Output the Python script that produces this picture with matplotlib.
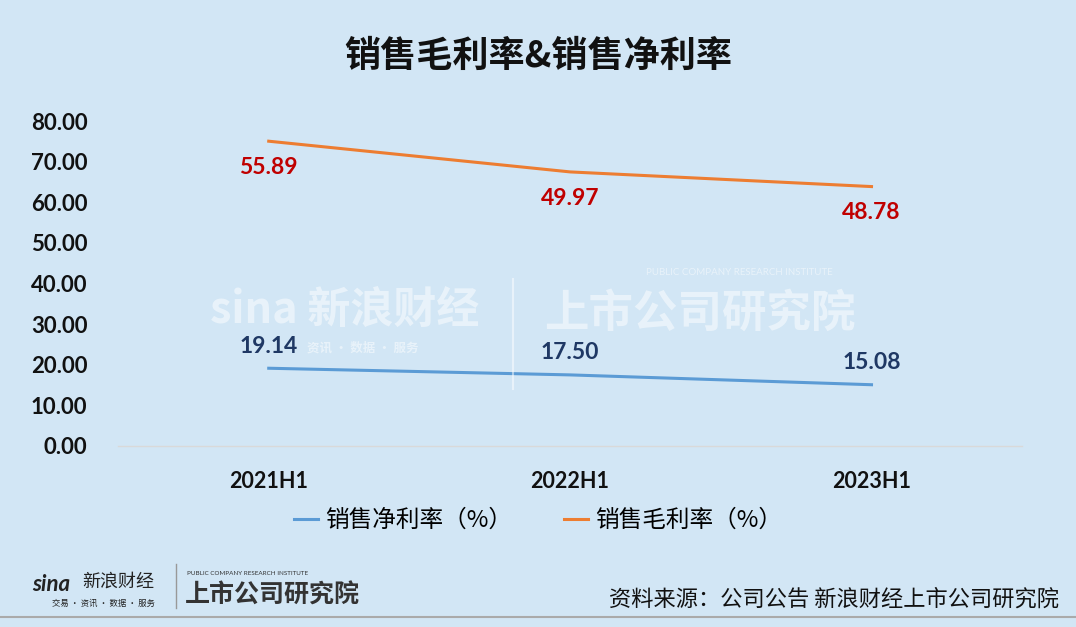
import matplotlib.pyplot as plt
import numpy as np

# Data
categories = ['2021H1', '2022H1', '2023H1']
net_margin = [19.14, 17.50, 15.08]
gross_margin = [55.89, 49.97, 48.78]
y_ticks = [0, 10, 20, 30, 40, 50, 60, 70, 80]

BG = '#D2E6F5'
CJK = ['Noto Sans CJK SC', 'DejaVu Sans']
NUM = ['Lato', 'DejaVu Sans']

plt.rcParams['font.family'] = CJK

fig = plt.figure(figsize=(10.76, 6.27), dpi=100, facecolor=BG)
ax = fig.add_axes([0.1097, 0.2887, 0.8403, 0.5183], facecolor=BG)

x = np.arange(len(categories))
# stacked line chart: gross margin drawn on top of net margin
stacked = np.array(net_margin) + np.array(gross_margin)

ax.plot(x, net_margin, color='#5B9BD5', linewidth=2.2,
        label='销售净利率（%）')
ax.plot(x, stacked, color='#ED7D31', linewidth=2.2,
        label='销售毛利率（%）')

for xi, yv, v in zip(x, stacked, gross_margin):
    ax.annotate(f'{v:.2f}', (xi, yv), xytext=(0, -19),
                textcoords='offset points', ha='center', va='center',
                fontsize=16.5, fontweight='bold', color='#C00000', family=NUM)
for xi, yv in zip(x, net_margin):
    ax.annotate(f'{yv:.2f}', (xi, yv), xytext=(0, 16),
                textcoords='offset points', ha='center', va='center',
                fontsize=16.5, fontweight='bold', color='#1F3864', family=NUM)

ax.set_xlim(-0.5, len(categories) - 0.5)
ax.set_ylim(0, 80)
ax.set_yticks(y_ticks)
ax.set_yticklabels([f'{t:.2f}' for t in y_ticks], family=NUM,
                   fontsize=16, fontweight='bold', color='#111111')
ax.set_xticks(x)
ax.set_xticklabels(categories, family=NUM, fontsize=15.5,
                   fontweight='bold', color='#111111')
ax.tick_params(axis='both', length=0)
ax.tick_params(axis='y', pad=22)
ax.tick_params(axis='x', pad=18)
for side in ['top', 'right', 'left']:
    ax.spines[side].set_visible(False)
ax.spines['bottom'].set_color('#D9D9D9')
ax.spines['bottom'].set_linewidth(1)

fig.text(0.5, 0.91, '销售毛利率&销售净利率', ha='center', va='center',
         fontsize=26, fontweight='bold', color='#111111')

leg = fig.legend(loc='center', bbox_to_anchor=(0.5, 0.17), ncol=2,
                 frameon=False, fontsize=17, handlelength=1.0,
                 handletextpad=0.3, columnspacing=2.2)

# faint watermark in the middle of the plot
fig.text(0.32, 0.505, 'sina 新浪财经', ha='center', va='center',
         fontsize=31, fontweight='bold', color='white', alpha=0.5,
         style='italic', zorder=0)
fig.text(0.285, 0.445, '资讯 · 数据 · 服务', ha='left', va='center',
         fontsize=9, fontweight='bold', color='white', alpha=0.5, zorder=0)
fig.text(0.65, 0.5, '上市公司研究院', ha='center', va='center',
         fontsize=32, fontweight='bold', color='white', alpha=0.5,
         style='italic', zorder=0)
fig.text(0.60, 0.565, 'PUBLIC COMPANY RESEARCH INSTITUTE', ha='left',
         va='center', fontsize=7, color='white', alpha=0.5, family=NUM,
         zorder=0)
fig.add_artist(plt.Line2D([0.477, 0.477], [0.38, 0.555], color='white',
                          alpha=0.5, linewidth=1.5))

# footer logos and source
fig.text(0.03, 0.068, 'sina', ha='left', va='center', fontsize=16,
         fontweight='bold', style='italic', color='#222222', family=NUM)
fig.text(0.076, 0.072, '新浪财经', ha='left', va='center', fontsize=13,
         color='#222222')
fig.text(0.048, 0.038, '交易 · 资讯 · 数据 · 服务', ha='left', va='center',
         fontsize=6, color='#222222')
fig.add_artist(plt.Line2D([0.164, 0.164], [0.03, 0.1], color='#999999',
                          linewidth=1))
fig.text(0.174, 0.085, 'PUBLIC COMPANY RESEARCH INSTITUTE', ha='left',
         va='center', fontsize=4.5, color='#333333', family=NUM)
fig.text(0.172, 0.05, '上市公司研究院', ha='left', va='center', fontsize=18,
         fontweight='bold', color='#333333', style='italic')
fig.text(0.984, 0.045, '资料来源：公司公告 新浪财经上市公司研究院',
         ha='right', va='center', fontsize=16, color='#111111')
fig.add_artist(plt.Line2D([0, 1], [0.016, 0.016], color='#AAAAAA',
                          linewidth=1.5))

fig.savefig('out.png', dpi=100, facecolor=BG)
